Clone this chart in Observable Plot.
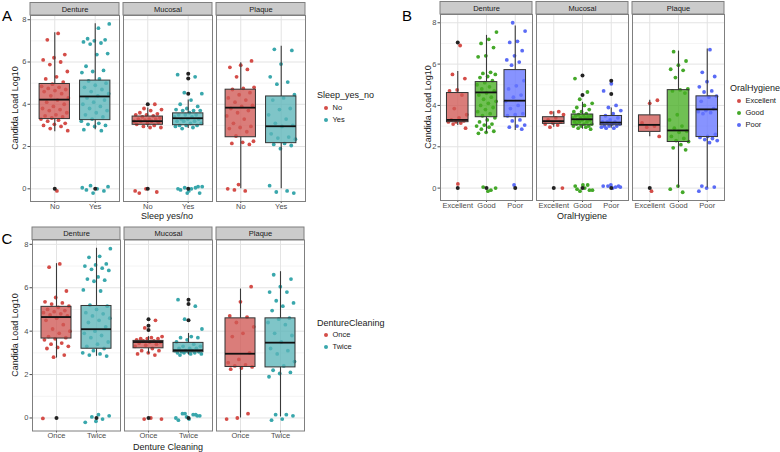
<!DOCTYPE html>
<html><head><meta charset="utf-8">
<script src="https://cdn.jsdelivr.net/npm/d3@7"></script>
<script src="https://cdn.jsdelivr.net/npm/@observablehq/plot@0.6"></script>
<style>
body{margin:0;background:#fff;font-family:"Liberation Sans",Arial,sans-serif;}
#root{position:relative;width:780px;height:452px;overflow:hidden;background:#fff;}
.abs{position:absolute;white-space:nowrap;line-height:1;color:#1a1a1a;}
.pan{position:absolute;}
</style></head><body><div id="root"></div>
<script>
// ---------- categories ----------
const facets = ["Denture", "Mucosal", "Plaque"];
const sleepLevels = ["No", "Yes"];
const hygieneLevels = ["Excellent", "Good", "Poor"];
const cleaningLevels = ["Once", "Twice"];

// ---------- Panel A: Sleep yes/no (jittered observations, log10 load) ----------
const A_Denture_No = [7.35, 7.05, 6.35, 6.2, 6.1, 6.0, 5.88, 5.55, 5.3, 5.2, 5.05, 4.95, 4.85, 4.8, 4.75, 4.7, 4.65, 4.6, 4.5, 4.4, 4.3, 4.2, 4.1, 4.0, 3.9, 3.8, 3.75, 3.7, 3.6, 3.5, 3.45, 3.4, 3.35, 3.3, 3.25, 3.2, 3.1, 3.05, 3.0, 2.95, 2.85, 2.75, -0.1];
const A_Denture_Yes = [7.8, 7.6, 7.1, 7.05, 7.0, 6.95, 6.9, 6.85, 6.4, 6.35, 5.8, 5.6, 5.55, 5.5, 5.2, 5.1, 5.0, 4.9, 4.8, 4.7, 4.6, 4.5, 4.4, 4.3, 4.2, 4.1, 4.0, 3.9, 3.8, 3.7, 3.6, 3.5, 3.4, 3.3, 3.2, 3.1, 3.05, 3.0, 2.95, 2.8, 2.75, 0.15, 0.1, 0.0, -0.05, -0.1, -0.2, 0.05];
const A_Mucosal_No = [4.0, 3.8, 3.75, 3.7, 3.6, 3.55, 3.5, 3.5, 3.45, 3.4, 3.35, 3.3, 3.3, 3.3, 3.25, 3.2, 3.2, 3.2, 3.15, 3.1, 3.05, 3.0, 2.95, 2.9, 2.9, -0.2, -0.15, 0.0, -0.1];
const A_Mucosal_Yes = [5.4, 5.3, 4.55, 4.5, 4.2, 4.0, 3.9, 3.8, 3.75, 3.7, 3.7, 3.7, 3.6, 3.5, 3.5, 3.5, 3.4, 3.4, 3.3, 3.3, 3.3, 3.2, 3.2, 3.2, 3.1, 3.1, 3.0, 3.0, 3.0, 2.95, 2.9, 2.85, -0.2, -0.1, 0.0, 0.05, 0.05, 0.1, 0.0, -0.05, 0.1, -0.2];
const A_Plaque_No = [6.05, 5.85, 5.75, 5.65, 5.3, 4.8, 4.75, 4.7, 4.55, 4.45, 4.3, 4.2, 4.1, 3.95, 3.9, 3.8, 3.7, 3.6, 3.45, 3.3, 3.1, 2.95, 2.9, 2.85, 2.7, 2.5, 2.25, 2.2, 2.15, 2.1, 0.2, 0.0, -0.1, -0.05];
const A_Plaque_Yes = [6.6, 6.55, 5.9, 5.3, 5.05, 4.95, 4.45, 4.3, 4.2, 3.8, 3.75, 3.5, 3.3, 3.1, 3.0, 2.95, 2.6, 2.45, 2.4, 2.35, 2.15, 2.1, 2.05, 1.9, 0.15, -0.1, -0.15, -0.2];
// facet, group, lower whisker, Q1, median, Q3, upper whisker
const A_boxes = [
  ["Denture", "No", 2.7, 3.3, 4.22, 4.96, 7.38],
  ["Denture", "Yes", 2.79, 3.25, 4.37, 5.12, 7.81],
  ["Mucosal", "No", 2.9, 3.03, 3.2, 3.42, 3.82],
  ["Mucosal", "Yes", 2.85, 3.01, 3.34, 3.57, 4.2],
  ["Plaque", "No", 0.0, 2.44, 3.84, 4.69, 5.96],
  ["Plaque", "Yes", 0.0, 2.16, 2.96, 4.37, 6.74]
];
const A_outliers = [["Denture", "No", 0], ["Denture", "Yes", 0], ["Mucosal", "No", 4.0], ["Mucosal", "No", 0], ["Mucosal", "Yes", 5.45], ["Mucosal", "Yes", 5.22], ["Mucosal", "Yes", 4.5], ["Mucosal", "Yes", 0]];

// ---------- Panel B: Oral hygiene ----------
const B_Denture_Excellent = [6.9, 5.5, 5.3, 4.75, 4.7, 4.5, 3.85, 3.55, 3.4, 3.3, 3.25, 3.2, 3.2, 3.15, 3.1, 2.9, 0.2];
const B_Denture_Good = [7.55, 7.2, 7.0, 6.8, 6.4, 6.35, 5.6, 5.55, 5.5, 5.4, 5.35, 5.2, 5.1, 5.0, 4.9, 4.8, 4.7, 4.6, 4.5, 4.4, 4.3, 4.2, 4.1, 4.0, 3.9, 3.8, 3.7, 3.6, 3.5, 3.4, 3.3, 3.2, 3.1, 3.05, 3.0, 2.95, 2.85, 2.75, 2.7, 2.65, -0.1, 0.05, 0.0, -0.15];
const B_Denture_Poor = [8.0, 7.6, 7.1, 7.05, 6.65, 6.4, 6.2, 6.1, 5.95, 5.2, 4.95, 4.8, 4.5, 4.4, 4.2, 4.0, 3.85, 3.6, 3.55, 3.5, 3.3, 3.25, 3.05, 3.0, 2.95, 2.85, 0.15];
const B_Mucosal_Excellent = [3.7, 3.65, 3.55, 3.4, 3.3, 3.2, 3.15, 3.1, 3.05, 2.95, 0.0];
const B_Mucosal_Good = [5.3, 4.65, 4.3, 4.1, 4.0, 3.9, 3.8, 3.7, 3.7, 3.6, 3.55, 3.5, 3.5, 3.5, 3.45, 3.4, 3.4, 3.4, 3.3, 3.3, 3.3, 3.2, 3.2, 3.2, 3.1, 3.1, 3.1, 3.0, 3.0, 3.0, 2.95, 2.9, 2.85, 0.15, 0.1, 0.15, -0.15, -0.1, 0.0, -0.05, -0.1];
const B_Mucosal_Poor = [5.05, 4.7, 4.0, 3.9, 3.75, 3.6, 3.5, 3.4, 3.3, 3.2, 3.2, 3.2, 3.1, 3.1, 3.0, 3.0, 3.0, 2.95, 2.9, 2.9, 0.1, 0.15, 0.1, 0.05, 0.1, 0.05, 0.0];
const B_Plaque_Excellent = [4.25, 4.1, 3.15, 3.0, 2.95, 2.5, -0.15];
const B_Plaque_Good = [6.6, 6.15, 5.95, 5.75, 5.7, 5.35, 4.8, 4.75, 4.7, 4.6, 3.55, 3.3, 3.0, 2.9, 2.75, 2.7, 2.5, 2.4, 2.3, 2.25, 2.1, 1.95, 1.85, 0.1, -0.05, -0.2];
const B_Plaque_Poor = [6.7, 5.6, 5.4, 5.15, 4.9, 4.7, 4.65, 4.45, 4.4, 4.2, 3.85, 3.75, 3.7, 3.65, 3.6, 2.6, 2.5, 2.45, 2.4, 2.35, 2.3, 2.2, 0.1, 0.05, 0.0, -0.15];
const B_boxes = [
  ["Denture", "Excellent", 3.03, 3.19, 3.3, 4.6, 5.64],
  ["Denture", "Good", 2.66, 3.43, 4.63, 5.13, 7.39],
  ["Denture", "Poor", 2.79, 3.43, 4.23, 5.71, 7.84],
  ["Mucosal", "Excellent", 2.95, 3.11, 3.24, 3.43, 3.7],
  ["Mucosal", "Good", 2.85, 3.04, 3.33, 3.56, 4.15],
  ["Mucosal", "Poor", 2.9, 3.04, 3.17, 3.49, 3.88],
  ["Plaque", "Excellent", 2.48, 2.72, 3.06, 3.52, 4.25],
  ["Plaque", "Good", 0.0, 2.23, 2.79, 4.74, 6.63],
  ["Plaque", "Poor", 0.0, 2.47, 3.81, 4.44, 6.73]
];
const B_outliers = [["Denture", "Excellent", 7.05], ["Denture", "Excellent", 0], ["Denture", "Good", 0], ["Denture", "Poor", 0], ["Mucosal", "Excellent", 0], ["Mucosal", "Good", 5.45], ["Mucosal", "Good", 4.5], ["Mucosal", "Good", 0], ["Mucosal", "Poor", 5.2], ["Mucosal", "Poor", 4.55], ["Mucosal", "Poor", 0], ["Plaque", "Excellent", 0]];

// ---------- Panel C: Denture cleaning ----------
const C_Denture_Once = [7.1, 6.95, 5.85, 5.55, 5.35, 5.3, 5.25, 5.15, 5.1, 5.0, 4.95, 4.9, 4.85, 4.8, 4.75, 4.7, 4.6, 4.5, 4.3, 4.1, 4.0, 3.9, 3.75, 3.7, 3.65, 3.6, 3.45, 3.4, 3.3, 3.25, 3.2, 2.9, 2.8, -0.02];
const C_Denture_Twice = [7.8, 7.45, 7.4, 7.1, 7.05, 7.0, 6.9, 6.85, 6.8, 6.5, 6.4, 6.35, 6.3, 5.9, 5.85, 5.2, 5.15, 5.0, 4.85, 4.8, 4.7, 4.6, 4.5, 4.4, 4.2, 4.0, 3.9, 3.8, 3.7, 3.5, 3.4, 3.3, 3.2, 3.1, 3.0, 2.95, 2.9, 2.85, -0.15, -0.2, -0.05, 0.05, 0.1, 0.15];
const C_Mucosal_Once = [4.5, 4.15, 3.75, 3.7, 3.65, 3.65, 3.65, 3.6, 3.55, 3.55, 3.5, 3.5, 3.45, 3.4, 3.35, 3.3, 3.2, 3.1, 3.1, 3.0, 2.95, 2.9, -0.05, -0.05, 0.0];
const C_Mucosal_Twice = [5.45, 5.15, 4.55, 4.1, 3.75, 3.7, 3.7, 3.6, 3.5, 3.4, 3.3, 3.3, 3.2, 3.2, 3.2, 3.1, 3.1, 3.1, 3.05, 3.05, 3.05, 3.0, 3.0, 3.0, 2.95, 2.95, 2.9, 0.1, 0.05, 0.0, 0.15, 0.2, 0.1, -0.05, -0.1, 0.15, 0.2];
const C_Plaque_Once = [6.05, 5.35, 4.7, 4.65, 4.4, 4.2, 3.9, 3.75, 3.0, 2.7, 2.55, 2.45, 2.4, 2.35, 2.3, 2.25, 0.2, 0.0, -0.05];
const C_Plaque_Twice = [6.6, 6.4, 6.05, 5.8, 5.8, 5.4, 5.3, 5.15, 4.95, 4.6, 4.55, 4.4, 4.3, 3.9, 3.8, 3.5, 3.2, 3.1, 2.95, 2.6, 2.4, 2.2, 2.1, 2.05, 1.9, 0.15, 0.15, 0.1, -0.05, -0.1];
const C_boxes = [
  ["Denture", "Once", 2.76, 3.66, 4.65, 5.12, 7.11],
  ["Denture", "Twice", 2.84, 3.19, 4.09, 5.16, 7.82],
  ["Mucosal", "Once", 2.95, 3.21, 3.5, 3.55, 3.75],
  ["Mucosal", "Twice", 2.9, 3.03, 3.12, 3.46, 3.89],
  ["Plaque", "Once", 0.0, 2.35, 2.96, 4.59, 5.94],
  ["Plaque", "Twice", 0.05, 2.33, 3.47, 4.59, 6.74]
];
const C_outliers = [["Denture", "Once", 0], ["Denture", "Twice", 0], ["Mucosal", "Once", 4.55], ["Mucosal", "Once", 4.25], ["Mucosal", "Once", 4.05], ["Mucosal", "Once", 0], ["Mucosal", "Twice", 5.45], ["Mucosal", "Twice", 5.25], ["Mucosal", "Twice", 4.5], ["Mucosal", "Twice", 0]];

// ---------- colours ----------
const dot2 = ["#D44D48", "#39A7AC"];
const box2 = ["#CF5954", "#5BB5B8"];
const dot3 = ["#D44D48", "#44A829", "#5A6BF5"];
const box3 = ["#CF5954", "#48AE24", "#6574FF"];

const root = document.getElementById("root");

// deterministic horizontal spread (layout only, not data)
function spread(k, seed) {
  const u = ((k + 1) * 0.6180339887 + seed * 0.377) % 1;
  return (u - 0.5) * 0.7;
}

function addText(txt, x, y, opts = {}) {
  const d = document.createElement("div");
  d.className = "abs";
  d.textContent = txt;
  d.style.left = x + "px";
  d.style.top = y + "px";
  d.style.fontSize = (opts.size || 9) + "px";
  if (opts.color) d.style.color = opts.color;
  const anchor = opts.anchor || "middle";
  let tr = anchor === "middle" ? "translate(-50%,-50%)" : "translate(0,-50%)";
  if (opts.rotate) tr += " rotate(-90deg)";
  d.style.transform = tr;
  root.appendChild(d);
}

function addLegend(title, levels, colors, x, yTitle, yItems) {
  addText(title, x, yTitle, {anchor: "start", size: 9});
  levels.forEach((lv, i) => {
    const c = document.createElement("div");
    c.style.position = "absolute";
    c.style.left = (x + 6.5) + "px";
    c.style.top = (yItems[i] - 2) + "px";
    c.style.width = "4px"; c.style.height = "4px";
    c.style.borderRadius = "50%";
    c.style.background = colors[i];
    root.appendChild(c);
    addText(lv, x + 15.5, yItems[i], {anchor: "start", size: 7.5, color: "#1a1a1a"});
  });
}

function drawPanel(cfg) {
  const n = cfg.levels.length;
  const rows = [];
  cfg.points.forEach(([facet, level, values]) => {
    const gi = cfg.levels.indexOf(level);
    const seed = facets.indexOf(facet) * 3 + gi;
    values.forEach((v, k) => rows.push({facet, x: gi + 1 + spread(k, seed), y: v, c: cfg.dotColors[gi]}));
  });
  const boxes = cfg.boxes.map(([facet, level, lo, q1, med, q3, hi]) => {
    const gi = cfg.levels.indexOf(level);
    return {facet, xi: gi + 1, lo, q1, med, q3, hi, c: cfg.boxColors[gi]};
  });
  const outs = cfg.outliers.map(([facet, level, v]) => ({facet, xi: cfg.levels.indexOf(level) + 1, y: v}));
  const innerH = cfg.height - cfg.mt - cfg.mb;
  const pxu = innerH / (cfg.ydom[1] - cfg.ydom[0]);
  const yTop = cfg.ydom[1];
  const stripU = 12.5 / pxu;
  const strips = facets.map(f => ({facet: f}));
  const hw = 0.375;
  const xlo = 0.4, xhi = n + 0.6;
  const chart = Plot.plot({
    width: cfg.width,
    height: cfg.height,
    marginTop: cfg.mt,
    marginBottom: cfg.mb,
    marginLeft: cfg.ml,
    marginRight: cfg.mr,
    style: {fontSize: "7.5px", fontFamily: "'Liberation Sans', Arial, sans-serif", color: "#4d4d4d", background: "transparent", overflow: "visible"},
    fx: {domain: facets, paddingInner: cfg.gap, paddingOuter: 0, axis: null, label: null},
    x: {domain: [xlo, xhi], ticks: d3.range(1, n + 1), tickFormat: i => cfg.levels[i - 1], tickSize: 2, tickPadding: 0, label: null},
    y: {domain: cfg.ydom, ticks: [0, 2, 4, 6, 8], tickSize: 2.5, tickPadding: 1.5, label: null},
    color: {type: "identity"},
    marks: [
      Plot.ruleY([1, 3, 5, 7], {stroke: "#f1f1f1", strokeWidth: 0.8}),
      Plot.ruleY([0, 2, 4, 6, 8], {stroke: "#e3e3e3", strokeWidth: 1}),
      Plot.ruleX(d3.range(1, n + 1), {stroke: "#e3e3e3", strokeWidth: 1}),
      Plot.dot(rows, {fx: "facet", x: "x", y: "y", fill: d => d.c, r: 1.9}),
      Plot.ruleX(boxes, {fx: "facet", x: "xi", y1: "lo", y2: "q1", stroke: "#3a3a3a", strokeWidth: 1.1}),
      Plot.ruleX(boxes, {fx: "facet", x: "xi", y1: "q3", y2: "hi", stroke: "#3a3a3a", strokeWidth: 1.1}),
      Plot.rect(boxes, {fx: "facet", x1: d => d.xi - hw, x2: d => d.xi + hw, y1: "q1", y2: "q3", fill: d => d.c, fillOpacity: 0.78, stroke: "#333333", strokeWidth: 1}),
      Plot.ruleY(boxes, {fx: "facet", x1: d => d.xi - hw, x2: d => d.xi + hw, y: "med", stroke: "#111111", strokeWidth: 1.8}),
      Plot.dot(outs, {fx: "facet", x: "xi", y: "y", fill: "#222222", r: 2}),
      Plot.frame({stroke: "#7f7f7f", strokeWidth: 1}),
      Plot.rect(strips, {fx: "facet", x1: () => xlo, x2: () => xhi, y1: () => yTop, y2: () => yTop + stripU, fill: "#cbcbcb", stroke: "#7f7f7f", strokeWidth: 1}),
      Plot.text(strips, {fx: "facet", x: () => (n + 1) / 2, y: () => yTop + stripU / 2, text: "facet", fontSize: 7.5, fill: "#1a1a1a"})
    ]
  });
  const wrap = document.createElement("div");
  wrap.className = "pan";
  wrap.style.left = cfg.left + "px";
  wrap.style.top = cfg.top + "px";
  wrap.appendChild(chart);
  root.appendChild(wrap);
}

// Panel A
drawPanel({
  left: 0, top: 0, width: 310, height: 220, mt: 15, mb: 19, ml: 29, mr: 4, gap: 0.043,
  ydom: [-0.6, 8.2], levels: sleepLevels, dotColors: dot2, boxColors: box2,
  points: [["Denture", "No", A_Denture_No], ["Denture", "Yes", A_Denture_Yes], ["Mucosal", "No", A_Mucosal_No], ["Mucosal", "Yes", A_Mucosal_Yes], ["Plaque", "No", A_Plaque_No], ["Plaque", "Yes", A_Plaque_Yes]],
  boxes: A_boxes, outliers: A_outliers
});
addText("A", 7, 15, {size: 15, color: "#000"});
addText("Candida Load Log10", 15, 108, {size: 9, rotate: true});
addText("Sleep yes/no", 167, 215.5, {size: 9});
addLegend("Sleep_yes_no", sleepLevels, dot2, 317, 95, [107.5, 119.5]);

// Panel B
drawPanel({
  left: 390, top: 0, width: 337, height: 220, mt: 14, mb: 20, ml: 50, mr: 2, gap: 0.0415,
  ydom: [-0.6, 8.4], levels: hygieneLevels, dotColors: dot3, boxColors: box3,
  points: [["Denture", "Excellent", B_Denture_Excellent], ["Denture", "Good", B_Denture_Good], ["Denture", "Poor", B_Denture_Poor], ["Mucosal", "Excellent", B_Mucosal_Excellent], ["Mucosal", "Good", B_Mucosal_Good], ["Mucosal", "Poor", B_Mucosal_Poor], ["Plaque", "Excellent", B_Plaque_Excellent], ["Plaque", "Good", B_Plaque_Good], ["Plaque", "Poor", B_Plaque_Poor]],
  boxes: B_boxes, outliers: B_outliers
});
addText("B", 407, 15, {size: 15, color: "#000"});
addText("Candida Load Log10", 428, 107, {size: 9, rotate: true});
addText("OralHygiene", 582, 215.5, {size: 9});
addLegend("OralHygiene", hygieneLevels, dot3, 730, 87.5, [100.5, 112.5, 124.5]);

// Panel C
drawPanel({
  left: 0, top: 220, width: 310, height: 232, mt: 19.5, mb: 21.5, ml: 31, mr: 4, gap: 0.043,
  ydom: [-0.6, 8.2], levels: cleaningLevels, dotColors: dot2, boxColors: box2,
  points: [["Denture", "Once", C_Denture_Once], ["Denture", "Twice", C_Denture_Twice], ["Mucosal", "Once", C_Mucosal_Once], ["Mucosal", "Twice", C_Mucosal_Twice], ["Plaque", "Once", C_Plaque_Once], ["Plaque", "Twice", C_Plaque_Twice]],
  boxes: C_boxes, outliers: C_outliers
});
addText("C", 7, 238, {size: 15, color: "#000"});
addText("Candida Load Log10", 15, 335, {size: 9, rotate: true});
addText("Denture Cleaning", 168, 447, {size: 9});
addLegend("DentureCleaning", cleaningLevels, dot2, 317, 322.5, [335, 347]);
</script></body></html>
